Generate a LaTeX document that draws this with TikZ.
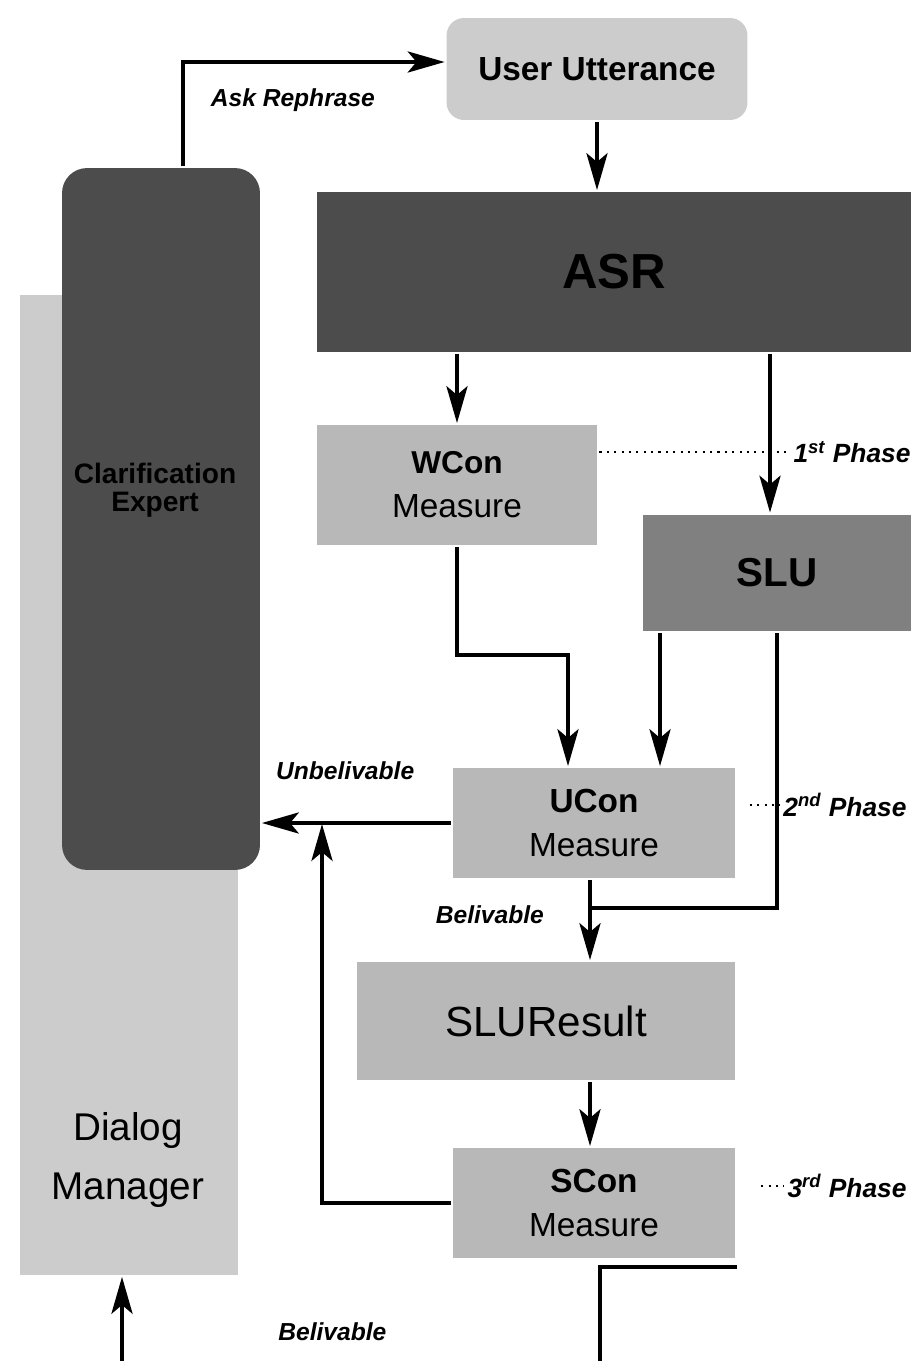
\documentclass[tikz,border=0pt]{standalone}
\usepackage{fontspec}
\setmainfont{Liberation Sans}
\usetikzlibrary{arrows.meta,positioning}
\definecolor{palebox}{gray}{0.80}
\definecolor{lightbox}{gray}{0.72}
\definecolor{midbox}{gray}{0.50}
\definecolor{darkbox}{gray}{0.30}

\begin{document}
\begin{tikzpicture}[->,>={Stealth[length=21pt,width=12pt,inset=5pt]},line width=2.2pt,x=0.02cm,y=-0.02cm,
  box/.style={draw=none,fill=lightbox,align=center,inner sep=0pt},
  measure node/.style={box,minimum width=5.64cm,minimum height=2.2cm,font=\fontsize{19}{25}\selectfont},
  dark node/.style={box,fill=darkbox},
  lbl/.style={font=\fontsize{14}{16}\selectfont\bfseries\itshape,inner sep=1pt}]

  \fill[white] (0,0) rectangle (914,1361);
  \useasboundingbox (0,0) rectangle (914,1361);

  % boxes
  \node[box,fill=palebox,minimum width=4.36cm,minimum height=19.6cm] (dm) at (129,785) {};
  \node[dark node,rounded corners=0.5cm,minimum width=3.96cm,minimum height=14.04cm] (clar) at (161,519) {};
  \node[font=\fontsize{16}{16}\selectfont\bfseries,align=center] (clartext) at (155,490) {Clarification\\Expert};
  \node[font=\fontsize{22}{34}\selectfont,align=center] (dmtext) at (128,1160) {Dialog\\Manager};

  \node[box,fill=palebox,rounded corners=0.35cm,minimum width=6.02cm,minimum height=2.04cm,
        font=\fontsize{19}{22}\selectfont\bfseries] (utt) at (597,69) {User Utterance};
  \node[dark node,minimum width=11.9cm,minimum height=3.2cm,font=\fontsize{28}{30}\selectfont\bfseries] (asr) at (614,272) {ASR};
  \node[measure node,minimum width=5.62cm,minimum height=2.4cm] (wcon) at (457,485) {\fontsize{18}{25}\selectfont\bfseries WCon\\Measure};
  \node[box,fill=midbox,minimum width=5.38cm,minimum height=2.34cm,font=\fontsize{23}{26}\selectfont\bfseries] (slu) at (777,573) {SLU};
  \node[measure node] (ucon) at (594,823) {\bfseries UCon\\Measure};
  \node[box,minimum width=7.56cm,minimum height=2.36cm,font=\fontsize{24}{28}\selectfont] (slures) at (546,1021) {SLUResult};
  \node[measure node] (scon) at (594,1203) {\bfseries SCon\\Measure};

  % phase labels
  \node[lbl,font=\fontsize{15}{16}\selectfont\bfseries\itshape] (ph1) at (852,452) {1\textsuperscript{st} Phase};
  \node[lbl,font=\fontsize{15}{16}\selectfont\bfseries\itshape] (ph2) at (845,805) {2\textsuperscript{nd} Phase};
  \node[lbl,font=\fontsize{15}{16}\selectfont\bfseries\itshape] (ph3) at (847,1186) {3\textsuperscript{rd} Phase};
  \draw[-,line width=1pt,dash pattern=on 1.2pt off 3pt] (wcon.east |- ph1.west) -- (ph1.west);
  \draw[-,line width=1pt,dash pattern=on 1.2pt off 3pt] ([xshift=-0.6cm]ph2.west) -- (ph2.west);
  \draw[-,line width=1pt,dash pattern=on 1.2pt off 3pt] ([xshift=-0.45cm]ph3.west) -- (ph3.west);

  % connectors
  \coordinate (wbend) at (568,655);
  \coordinate (ujoin) at (590,908);
  \coordinate (sbend) at (600,1380);

  \draw ([xshift=0.44cm]clar.north) |- ([yshift=0.14cm]utt.west)
        node[lbl,pos=0.71,below=0.45cm] {Ask Rephrase};
  \draw (utt.south) -- (utt.south |- asr.north);
  \draw (asr.south -| wcon.north) -- (wcon.north);
  \draw ([xshift=-0.14cm]asr.south -| slu.north) -- ([xshift=-0.14cm]slu.north);
  \draw (wcon.south) |- (wbend) -- (wbend |- ucon.north);
  \draw ([xshift=-2.34cm]slu.south) -- ([xshift=-2.34cm]slu.south |- ucon.north);
  \draw[-] (slu.south) |- (ujoin);
  \draw (ujoin |- ucon.south) -- (ujoin |- slures.north)
        node[lbl,pos=0.43,left=0.85cm] {Belivable};
  \draw (ujoin |- slures.south) -- (ujoin |- scon.north);
  \draw (ucon.west) -- (clar.east |- ucon.west)
        node[lbl,pos=0.56,above=0.8cm] {Unbelivable};
  \draw (scon.west) -| (322,824);
  \draw ([yshift=-0.14cm]scon.south east) -| (sbend) -| ([xshift=-0.14cm]dm.south)
        node[lbl,pos=0.28,above=0.72cm] {Belivable};
\end{tikzpicture}
\end{document}
